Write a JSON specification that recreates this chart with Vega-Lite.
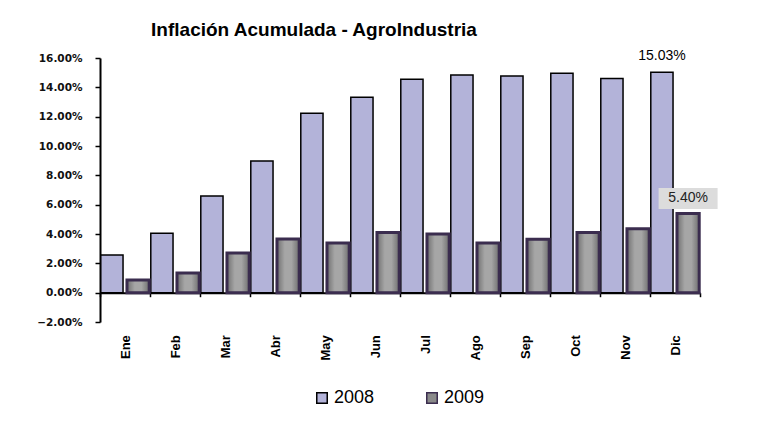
{
  "$schema": "https://vega.github.io/schema/vega-lite/v6.json",
  "width": 600,
  "height": 264,
  "autosize": {"type": "none"},
  "padding": {"left": 100, "top": 58, "right": 62, "bottom": 124},
  "background": "white",
  "title": {
    "text": "Inflación Acumulada - AgroIndustria",
    "font": "Liberation Sans",
    "fontSize": 19,
    "fontWeight": "bold",
    "color": "#000000",
    "anchor": "middle",
    "dx": -86,
    "offset": 9
  },
  "config": {"view": {"stroke": null}},
  "data": {
    "values": [
      {"Mes": "Ene", "Año": "2008", "v": 0.0257},
      {"Mes": "Feb", "Año": "2008", "v": 0.0405},
      {"Mes": "Mar", "Año": "2008", "v": 0.0659},
      {"Mes": "Abr", "Año": "2008", "v": 0.0898},
      {"Mes": "May", "Año": "2008", "v": 0.1223},
      {"Mes": "Jun", "Año": "2008", "v": 0.1332},
      {"Mes": "Jul", "Año": "2008", "v": 0.1455},
      {"Mes": "Ago", "Año": "2008", "v": 0.1484},
      {"Mes": "Sep", "Año": "2008", "v": 0.1477},
      {"Mes": "Oct", "Año": "2008", "v": 0.1496},
      {"Mes": "Nov", "Año": "2008", "v": 0.1461},
      {"Mes": "Dic", "Año": "2008", "v": 0.1503},
      {"Mes": "Ene", "Año": "2009", "v": 0.0086},
      {"Mes": "Feb", "Año": "2009", "v": 0.0134},
      {"Mes": "Mar", "Año": "2009", "v": 0.0270},
      {"Mes": "Abr", "Año": "2009", "v": 0.0366},
      {"Mes": "May", "Año": "2009", "v": 0.0338},
      {"Mes": "Jun", "Año": "2009", "v": 0.0411},
      {"Mes": "Jul", "Año": "2009", "v": 0.0400},
      {"Mes": "Ago", "Año": "2009", "v": 0.0338},
      {"Mes": "Sep", "Año": "2009", "v": 0.0365},
      {"Mes": "Oct", "Año": "2009", "v": 0.0411},
      {"Mes": "Nov", "Año": "2009", "v": 0.0435},
      {"Mes": "Dic", "Año": "2009", "v": 0.0540}
    ]
  },
  "encoding": {
    "x": {
      "field": "Mes",
      "type": "nominal",
      "sort": ["Ene", "Feb", "Mar", "Abr", "May", "Jun", "Jul", "Ago", "Sep", "Oct", "Nov", "Dic"],
      "scale": {"paddingInner": 0, "paddingOuter": 0},
      "axis": {
        "title": null,
        "orient": "bottom",
        "offset": -29.3,
        "domainColor": "#000000",
        "domainWidth": 2,
        "tickColor": "#000000",
        "tickBand": "extent",
        "tickSize": 4,
        "tickWidth": 1.5,
        "labelAngle": -90,
        "labelAlign": "right",
        "labelBaseline": "middle",
        "labelPadding": 38,
        "labelFont": "Liberation Sans",
        "labelFontWeight": "bold",
        "labelFontSize": 13,
        "labelColor": "#000000",
        "grid": false
      }
    },
    "xOffset": {
      "field": "Año",
      "type": "nominal",
      "scale": {"paddingInner": 0.15, "paddingOuter": 0.03}
    },
    "y": {
      "field": "v",
      "type": "quantitative",
      "scale": {"domain": [-0.02, 0.16], "nice": false, "zero": false},
      "axis": {
        "title": null,
        "values": [-0.02, 0, 0.02, 0.04, 0.06, 0.08, 0.1, 0.12, 0.14, 0.16],
        "format": ".2%",
        "domainColor": "#000000",
        "domainWidth": 2,
        "tickColor": "#000000",
        "tickSize": 5,
        "tickWidth": 1.5,
        "labelFont": "DejaVu Sans",
        "labelFontWeight": "bold",
        "labelFontSize": 10.5,
        "labelColor": "#111111",
        "labelPadding": 13,
        "grid": false
      }
    }
  },
  "layer": [
    {
      "transform": [{"filter": "datum['Año'] == '2008'"}],
      "mark": {"type": "bar", "strokeWidth": 1.5},
      "encoding": {
        "y2": {"datum": 0},
        "color": {
          "field": "Año",
          "type": "nominal",
          "scale": {"domain": ["2008", "2009"], "range": ["#b3b3d9", "#8a8a8a"]},
          "legend": {
            "title": null,
            "orient": "none",
            "legendX": 213,
            "legendY": 331,
            "direction": "horizontal",
            "symbolType": "square",
            "symbolSize": 110,
            "symbolStrokeWidth": 1.5,
            "labelFont": "Liberation Sans",
            "labelFontSize": 18,
            "labelColor": "#000000",
            "labelOffset": 3,
            "columnPadding": 48
          }
        },
        "stroke": {
          "field": "Año",
          "type": "nominal",
          "scale": {"domain": ["2008", "2009"], "range": ["#000000", "#3b2d4f"]},
          "legend": {
            "title": null,
            "orient": "none",
            "legendX": 213,
            "legendY": 331,
            "direction": "horizontal",
            "symbolType": "square",
            "symbolSize": 110,
            "symbolStrokeWidth": 1.5,
            "labelFont": "Liberation Sans",
            "labelFontSize": 18,
            "labelColor": "#000000",
            "labelOffset": 3,
            "columnPadding": 48
          }
        }
      }
    },
    {
      "transform": [{"filter": "datum['Año'] == '2009'"}],
      "mark": {
        "type": "bar",
        "strokeWidth": 3,
        "fill": {
          "gradient": "linear",
          "x1": 0, "y1": 0, "x2": 1, "y2": 0,
          "stops": [
            {"offset": 0, "color": "#6f6f6f"},
            {"offset": 0.35, "color": "#a6a6a6"},
            {"offset": 0.65, "color": "#a6a6a6"},
            {"offset": 1, "color": "#6f6f6f"}
          ]
        }
      },
      "encoding": {
        "y2": {"datum": 0},
        "stroke": {"field": "Año", "type": "nominal"}
      }
    },
    {
      "transform": [{"filter": "datum['Año'] == '2009' && datum.Mes == 'Dic'"}],
      "mark": {
        "type": "point",
        "shape": "M-1,-0.356L1,-0.356L1,0.356L-1,0.356Z",
        "size": 3481,
        "filled": true,
        "fill": "#dcdcdc",
        "opacity": 1,
        "strokeWidth": 0,
        "yOffset": -15
      },
      "encoding": {}
    },
    {
      "transform": [{"filter": "datum['Año'] == '2009' && datum.Mes == 'Dic'"}],
      "mark": {
        "type": "text",
        "font": "Liberation Sans",
        "fontSize": 14,
        "color": "#222222",
        "baseline": "middle",
        "align": "center",
        "dy": -15
      },
      "encoding": {"text": {"field": "v", "type": "quantitative", "format": ".2%"}}
    },
    {
      "transform": [{"filter": "datum['Año'] == '2008' && datum.Mes == 'Dic'"}],
      "mark": {
        "type": "text",
        "font": "Liberation Sans",
        "fontSize": 14,
        "color": "#000000",
        "baseline": "bottom",
        "align": "center",
        "dy": -9
      },
      "encoding": {"text": {"field": "v", "type": "quantitative", "format": ".2%"}}
    }
  ]
}
